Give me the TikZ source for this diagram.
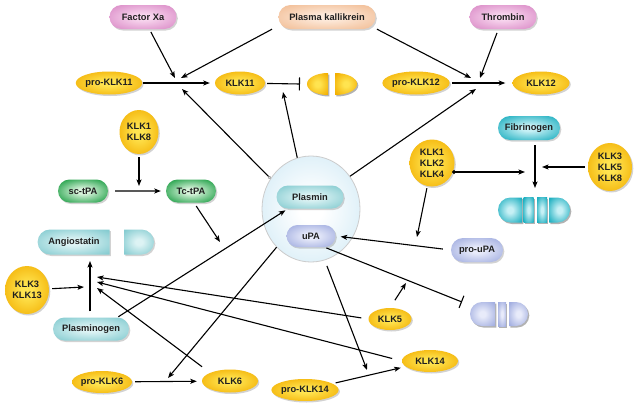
\documentclass[tikz,border=0pt]{standalone}
\usepackage{fontspec}
\setmainfont{Liberation Sans}
\usetikzlibrary{shapes.geometric,shapes.misc,arrows.meta,shadows}
\definecolor{yin}{HTML}{FFE450}
\definecolor{yout}{HTML}{F2AE00}
\definecolor{pin}{HTML}{F8D6EE}
\definecolor{pout}{HTML}{DB8DC8}
\definecolor{fin}{HTML}{FDEADB}
\definecolor{fout}{HTML}{F2BF98}
\definecolor{tin}{HTML}{DDF3F4}
\definecolor{tout}{HTML}{86CCD1}
\definecolor{cin}{HTML}{C6F0F5}
\definecolor{cout}{HTML}{1EAFC0}
\definecolor{gin}{HTML}{D8F3DB}
\definecolor{gout}{HTML}{179C40}
\definecolor{lin}{HTML}{E8EBFA}
\definecolor{lout}{HTML}{A2AEE0}
\definecolor{cloudin}{HTML}{FFFFFF}
\definecolor{cloudout}{HTML}{D3EBF6}
\colorlet{shin}{white}
\colorlet{shout}{black}
\pgfdeclareradialshading[shin,shout]{soft}{\pgfpoint{0bp}{0bp}}{color(0bp)=(shin); color(6bp)=(shin); color(33bp)=(shout); color(50bp)=(shout)}
\begin{document}
\begin{tikzpicture}[x=1pt,y=-1pt,
  every node/.style={font=\bfseries\fontsize{9.3}{11}\selectfont, text=black!88, inner sep=0pt, align=center},
  shd/.style={drop shadow={shadow xshift=1.3pt,shadow yshift=-1.5pt,opacity=0.35}},
  sh/.style 2 args={/utils/exec={\colorlet{shin}{#1}\colorlet{shout}{#2}}, shading=soft, shade},
  yel/.style={ellipse, shd, sh={yin}{yout}},
  pill/.style={rounded rectangle, shd},
  pinkc/.style={sh={pin}{pout}},
  peachc/.style={sh={fin}{fout}},
  tealc/.style={sh={tin}{tout}},
  cyanc/.style={sh={cin}{cout}},
  greenc/.style={sh={gin}{gout}},
  lavc/.style={sh={lin}{lout}},
  arr/.style={-{Stealth[length=6.5pt,width=5pt,inset=1.5pt]}, line width=1.1pt},
  inh/.style={-{Bar[width=13pt,line width=1.1pt]}, line width=1.1pt},
  shadowpiece/.style={fill=black, opacity=0.3, shift={(1.3,1.5)}}
]
\useasboundingbox (0,0) rectangle (638,407);
\fill[white] (0,0) rectangle (638,407);

% central cloud
\node[ellipse, minimum width=98pt, minimum height=106pt, sh={cloudin}{cloudout}, draw=gray!40, line width=0.8pt] (cloud) at (311,209) {};
\node[pill, tealc, minimum width=67pt, minimum height=23pt] (plasmin) at (310,197) {Plasmin};
\node[pill, lavc, minimum width=49pt, minimum height=22pt] (upa) at (311,236) {uPA};

% top row
\node[pill, pinkc, minimum width=67pt, minimum height=24pt] (fxa) at (143,17) {Factor Xa};
\node[pill, peachc, minimum width=97pt, minimum height=24pt] (pk) at (327,17) {Plasma kallikrein};
\node[pill, pinkc, minimum width=67pt, minimum height=24pt] (thr) at (503,17) {Thrombin};

\node[yel, minimum width=65pt, minimum height=23pt] (pk11) at (109,83) {pro-KLK11};
\node[yel, minimum width=50pt, minimum height=23pt] (k11) at (240,83) {KLK11};
\node[yel, minimum width=66pt, minimum height=23pt] (pk12) at (416,83) {pro-KLK12};
\node[yel, minimum width=57pt, minimum height=23pt] (k12) at (541,83) {KLK12};

% yellow split shape
\begin{scope}
\fill[shadowpiece] (328,73) -- (328,95) arc[start angle=90,end angle=270,x radius=21,y radius=11] -- cycle;
\fill[shadowpiece] (335,73) arc[start angle=-90,end angle=90,x radius=22,y radius=11] -- cycle;
\path[sh={yin}{yout}] (328,73) -- (328,95) arc[start angle=90,end angle=270,x radius=21,y radius=11] -- cycle;
\path[sh={yin}{yout}] (335,73) arc[start angle=-90,end angle=90,x radius=22,y radius=11] -- cycle;
\end{scope}

% tPA
\node[yel, minimum width=39pt, minimum height=44pt] (k18) at (139,132) {KLK1\\KLK8};
\node[pill, greenc, minimum width=50pt, minimum height=23pt] (sct) at (83,191) {sc-tPA};
\node[pill, greenc, minimum width=50pt, minimum height=23pt] (tct) at (191,191) {Tc-tPA};

% right middle
\node[yel, minimum width=45pt, minimum height=47pt] (k124) at (432,163) {KLK1\\KLK2\\KLK4};
\node[pill, cyanc, minimum width=62pt, minimum height=24pt] (fib) at (529,128) {Fibrinogen};
\node[yel, minimum width=44pt, minimum height=48pt] (k358) at (610,167) {KLK3\\KLK5\\KLK8};
\node[pill, lavc, minimum width=52pt, minimum height=24pt] (proupa) at (477,250) {pro-uPA};

% cyan split shape
\begin{scope}
\fill[shadowpiece] (522,197.5) -- (510.5,197.5) arc[start angle=-90,end angle=-270,radius=12.5] -- (522,222.5) -- cycle;
\fill[shadowpiece] (523.5,197.5) rectangle (533.5,222.5);
\fill[shadowpiece] (537,197.5) rectangle (547,222.5);
\fill[shadowpiece] (549,197.5) -- (557.5,197.5) arc[start angle=-90,end angle=90,radius=12.5] -- (549,222.5) -- cycle;
\path[sh={cin}{cout}] (522,197.5) -- (510.5,197.5) arc[start angle=-90,end angle=-270,radius=12.5] -- (522,222.5) -- cycle;
\path[sh={cin}{cout}] (523.5,197.5) rectangle (533.5,222.5);
\path[sh={cin}{cout}] (537,197.5) rectangle (547,222.5);
\path[sh={cin}{cout}] (549,197.5) -- (557.5,197.5) arc[start angle=-90,end angle=90,radius=12.5] -- (549,222.5) -- cycle;
\end{scope}

% lavender split shape
\begin{scope}
\fill[shadowpiece] (495,302) -- (482,302) arc[start angle=-90,end angle=-270,radius=12] -- (495,326) -- cycle;
\fill[shadowpiece] (498,302) rectangle (506,326);
\fill[shadowpiece] (509,302) -- (516,302) arc[start angle=-90,end angle=90,radius=12] -- (509,326) -- cycle;
\path[sh={lin}{lout}] (495,302) -- (482,302) arc[start angle=-90,end angle=-270,radius=12] -- (495,326) -- cycle;
\path[sh={lin}{lout}] (498,302) rectangle (506,326);
\path[sh={lin}{lout}] (509,302) -- (516,302) arc[start angle=-90,end angle=90,radius=12] -- (509,326) -- cycle;
\end{scope}

% left lower
\node[pill, tealc, rounded rectangle right arc=none, minimum width=72pt, minimum height=25pt] (angio) at (74,242) {Angiostatin};
\node[pill, tealc, rounded rectangle left arc=none, minimum width=30pt, minimum height=25pt] (angio2) at (139,242) {};
\node[yel, minimum width=44pt, minimum height=48pt] (k313) at (27,290) {KLK3\\KLK13};
\node[pill, tealc, minimum width=76pt, minimum height=23pt] (plg) at (91,329) {Plasminogen};
\node[yel, minimum width=60pt, minimum height=22pt] (pk6) at (102,382) {pro-KLK6};
\node[yel, minimum width=56pt, minimum height=23pt] (k6) at (230,381) {KLK6};
\node[yel, minimum width=43pt, minimum height=22pt] (k5) at (390,319) {KLK5};
\node[yel, minimum width=56pt, minimum height=22pt] (k14) at (430,361) {KLK14};
\node[yel, minimum width=66pt, minimum height=22pt] (pk14) at (305,390) {pro-KLK14};

% junction coordinates
\coordinate (ja1) at (175,78);
\coordinate (ja2) at (181,78);
\coordinate (ja3) at (182,89);
\coordinate (jb1) at (471,78);
\coordinate (jb2) at (480,78);
\coordinate (jb3) at (476,89);
\coordinate (jc) at (283,92);
\coordinate (bar11) at (300,84);
\coordinate (jt) at (139,186);
\coordinate (jp) at (220,242);
\coordinate (jk6) at (168,378);
\coordinate (jk14) at (367,370);
\coordinate (bar2) at (462,302);
\coordinate (ju) at (417,237);
\coordinate (k4dot) at (452,172);
\coordinate (jf1) at (525,172);
\coordinate (jf2) at (535,188);
\coordinate (jf3) at (542,167);
\coordinate (jang) at (90,261);
\coordinate (j313) at (84,287);
\coordinate (j5) at (97,277);
\coordinate (j14) at (97,282);
\coordinate (j6) at (97,288);
\coordinate (jk5) at (406,283);

% connectors
\draw[arr, shorten <=1pt, shorten >=5pt] (pk11) -- (k11);
\draw[arr, shorten <=3pt] (fxa) -- (ja1);
\draw[arr] ([xshift=-55pt]pk.south) -- (ja2);
\draw[arr] ([xshift=50pt]pk.south) -- (jb1);
\draw[arr, shorten <=4pt] (thr) -- (jb2);
\draw[arr, shorten <=2pt, shorten >=7pt] (pk12) -- (k12);
\draw[line width=1.1pt, {Circle[open,length=3pt,width=3pt,line width=0.6pt,color=gray]}-{Stealth[length=6.5pt,width=5pt,inset=1.5pt]}] (cloud.143) -- (ja3);
\draw[arr] (cloud.105) -- (jc);
\draw[inh, shorten <=2pt] (k11) -- (bar11);
\draw[arr] (cloud.40) -- (jb3);
\draw[arr, shorten <=3pt] (k18) -- (jt);
\draw[arr, shorten <=7pt, shorten >=5pt] (sct) -- (tct);
\draw[arr, shorten <=4pt] ([xshift=3pt]tct.south) -- (jp);
\draw[arr, shorten <=1pt, shorten >=3pt] (plg.north east) -- (plasmin.south west);
\draw[arr] (cloud.228) -- (jk6);
\draw[arr, shorten <=6pt] (cloud.285) -- (jk14);
\draw[inh, shorten <=2pt] (upa.south east) -- (bar2);
\draw[arr, shorten <=8pt, shorten >=5pt] (proupa.west) -- (upa.east);
\draw[arr, shorten <=2pt] (k124) -- (ju);
\draw[{Circle[length=4pt]}-{Stealth[length=6.5pt,width=5pt,inset=1.5pt]}, line width=1.1pt] (k4dot) -- (jf1);
\draw[arr, shorten <=5pt] ([xshift=6pt]fib.south) -- (jf2);
\draw[arr, shorten <=3pt] (k358) -- (jf3);
\draw[arr, shorten <=6pt] ([xshift=-1pt]plg.north) -- (jang);
\draw[arr, shorten <=3pt] (k313) -- (j313);
\draw[arr, shorten <=7pt] (k5.west) -- (j5);
\draw[arr, shorten <=10pt] (k14.west) -- (j14);
\draw[arr, shorten <=10pt] (k6.north west) -- (j6);
\draw[arr, shorten <=3pt, shorten >=5pt] (pk6) -- (k6);
\draw[arr, shorten <=9pt] (k5.north) -- (jk5);
\draw[arr, shorten <=3pt, shorten >=5pt] (pk14) -- (k14);
\end{tikzpicture}
\end{document}
